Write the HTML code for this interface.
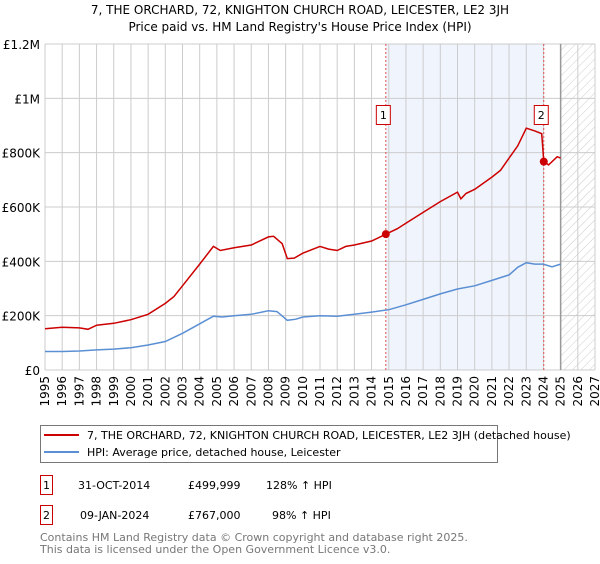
<!DOCTYPE html>
<html><head><meta charset="utf-8"><style>
body{margin:0;background:#fff;width:600px;height:560px;overflow:hidden;font-family:"DejaVu Sans","Liberation Sans",sans-serif;}
svg text{font-family:"DejaVu Sans","Liberation Sans",sans-serif;}
</style></head><body>
<svg id="chart" width="600" height="560" xmlns="http://www.w3.org/2000/svg">
<defs><pattern id="hatch" width="6" height="6" patternUnits="userSpaceOnUse" patternTransform="rotate(45)"><line x1="0" y1="0" x2="0" y2="6" stroke="#ccc" stroke-width="1"/></pattern></defs>
<text x="300" y="14" text-anchor="middle" font-size="12" fill="#000">7, THE ORCHARD, 72, KNIGHTON CHURCH ROAD, LEICESTER, LE2 3JH</text>
<text x="300" y="31" text-anchor="middle" font-size="12" fill="#000">Price paid vs. HM Land Registry's House Price Index (HPI)</text>
<g id="plot"></g>
<g>
<rect x="40.5" y="425.5" width="457" height="37" fill="#fff" stroke="#777"/>
<line x1="44" y1="435" x2="79" y2="435" stroke="#cc0000" stroke-width="2"/>
<text x="87" y="439" font-size="11">7, THE ORCHARD, 72, KNIGHTON CHURCH ROAD, LEICESTER, LE2 3JH (detached house)</text>
<line x1="44" y1="452" x2="79" y2="452" stroke="#5b8fd4" stroke-width="2"/>
<text x="87" y="456" font-size="11">HPI: Average price, detached house, Leicester</text>
</g>
<g font-size="11">
<rect x="40.5" y="475.5" width="12" height="19" fill="#fff" stroke="#cc0000"/>
<text x="46.5" y="489" text-anchor="middle">1</text>
<text x="78" y="489">31-OCT-2014</text><text x="188" y="489">£499,999</text><text x="266" y="489">128% ↑ HPI</text>
<rect x="40.5" y="505.5" width="12" height="19" fill="#fff" stroke="#cc0000"/>
<text x="46.5" y="519" text-anchor="middle">2</text>
<text x="80" y="519">09-JAN-2024</text><text x="188" y="519">£767,000</text><text x="272" y="519">98% ↑ HPI</text>
</g>
<text x="40" y="541" font-size="11" fill="#777">Contains HM Land Registry data © Crown copyright and database right 2025.</text>
<text x="40" y="553" font-size="11" fill="#777">This data is licensed under the Open Government Licence v3.0.</text>
</svg>
<script>
const redYears=[1995,1996,1997,1997.5,1998,1999,2000,2001,2002,2002.5,2003,2004,2004.8,2005.2,2006,2007,2008,2008.3,2008.8,2009.1,2009.5,2010,2011,2011.5,2012,2012.5,2013,2014,2014.83,2015.5,2016,2017,2018,2019,2019.2,2019.5,2020,2021,2021.5,2022,2022.5,2023,2023.5,2023.9,2024.02,2024.3,2024.8,2025];
const redVals=[152,157,155,150,165,172,185,205,245,270,310,390,455,440,450,460,490,492,465,410,412,430,455,445,440,455,460,475,500,520,540,580,620,655,630,650,665,710,735,780,825,890,880,870,767,755,785,780];
const blueYears=[1995,1996,1997,1998,1999,2000,2001,2002,2003,2004,2004.8,2005.3,2006,2007,2008,2008.5,2009.1,2009.6,2010,2011,2012,2013,2014,2015,2016,2017,2018,2019,2020,2021,2022,2022.5,2023,2023.5,2024,2024.5,2025];
const blueVals=[68,68,70,74,77,82,92,105,135,170,198,195,200,205,218,215,183,187,195,200,198,205,213,222,240,260,280,298,310,330,350,378,395,390,390,380,390];
const saleYears=[2014.83,2024.02];
const saleVals=[500,767];
const saleLabels=["1","2"];
const yTicks=[0,200,400,600,800,1000,1200];
const yTickLabels=["£0","£200K","£400K","£600K","£800K","£1M","£1.2M"];
const xTicks=[1995,1996,1997,1998,1999,2000,2001,2002,2003,2004,2005,2006,2007,2008,2009,2010,2011,2012,2013,2014,2015,2016,2017,2018,2019,2020,2021,2022,2023,2024,2025,2026,2027];
const x0=45,x1=595,y0=370,y1=44;
const X=v=>x0+(v-1995)/(2027-1995)*(x1-x0);
const Y=v=>y0-v/1200*(y0-y1);
const NS="http://www.w3.org/2000/svg";
const g=document.getElementById('plot');
function mk(t,a,p){const e=document.createElementNS(NS,t);for(const k in a)e.setAttribute(k,a[k]);(p||g).appendChild(e);return e;}
let r=mk('rect',{x:X(saleYears[0]),y:y1,width:X(saleYears[1])-X(saleYears[0]),height:y0-y1,fill:'#f0f4fd'});


let h=mk('rect',{x:X(2025),y:y1,width:x1-X(2025),height:y0-y1,fill:'url(#hatch)'});


yTicks.forEach((v,i)=>{
 let l=mk('line',{x1:x0,x2:x1,y1:Y(v),y2:Y(v),stroke:'#ccc'});
 
 
 let t=mk('text',{x:x0-5,y:Y(v)+5,'text-anchor':'end','font-size':'12'});
 t.textContent=yTickLabels[i];
 
 
});
xTicks.forEach(v=>{
 let l=mk('line',{x1:X(v),x2:X(v),y1:y1,y2:y0,stroke:'#ccc'});
 
 
 let t=mk('text',{x:0,y:0,'font-size':'12','text-anchor':'end',transform:`translate(${X(v)+4},${y0+6}) rotate(-90)`});
 t.textContent=v;
 
 
});
let b=mk('line',{x1:X(2025),x2:X(2025),y1:y1,y2:y0,stroke:'#999','stroke-width':1.5});


saleYears.forEach((v,i)=>{
 let l=mk('line',{x1:X(v),x2:X(v),y1:y1,y2:y0,stroke:'#e05050','stroke-dasharray':'2,2'});
 
 
 let bx=mk('rect',{x:X(v)-9.5,y:105.5,width:14,height:19,fill:'#fff',stroke:'#cc0000'});
 
 
 let t=mk('text',{x:X(v)-2.5,y:119,'text-anchor':'middle','font-size':'11'});
 t.textContent=saleLabels[i];
 
 
});
function path(xs,ys,c,n){
 let p=mk('path',{d:xs.map((x,i)=>(i?'L':'M')+X(x).toFixed(1)+','+Y(ys[i]).toFixed(1)).join(''),fill:'none',stroke:c,'stroke-width':1.5});
 
 
}
path(blueYears,blueVals,'#5b8fd4','hpi-line');
path(redYears,redVals,'#cc0000','price-line');
saleYears.forEach((v,i)=>{
 let c=mk('circle',{cx:X(v),cy:Y(saleVals[i]),r:4,fill:'#cc0000'});
 
 
});
</script>
</body></html>
